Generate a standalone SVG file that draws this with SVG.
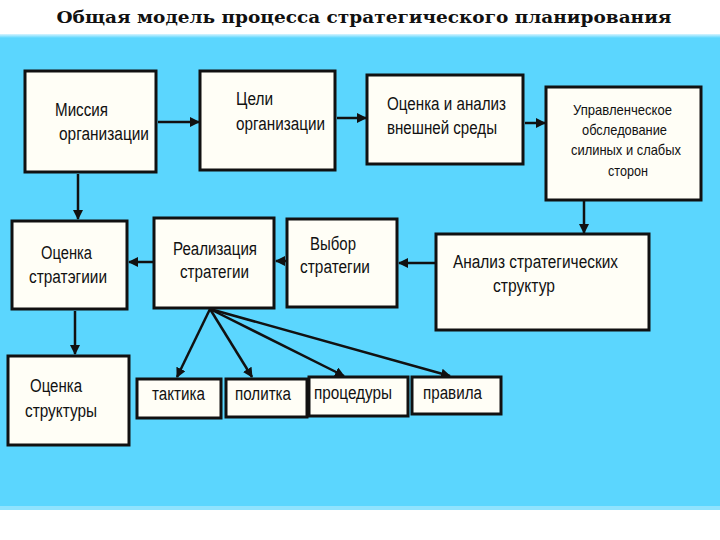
<svg xmlns="http://www.w3.org/2000/svg" width="720" height="540" viewBox="0 0 720 540">
<defs>
<linearGradient id="topEdge" x1="0" y1="0" x2="0" y2="1">
<stop offset="0" stop-color="#D8F4FF"/>
<stop offset="1" stop-color="#5BD6FE"/>
</linearGradient>
<marker id="ah" viewBox="0 0 10 10" refX="9" refY="5" markerWidth="4" markerHeight="4" markerUnits="strokeWidth" orient="auto">
<path d="M0,0 L10,5 L0,10 z" fill="#111"/>
</marker>
<style>
.box{fill:#FFFEF6;stroke:#111;stroke-width:3}
.t{font-family:"Liberation Sans",Arial,sans-serif;font-size:18px;fill:#111}
.s{font-family:"Liberation Sans",Arial,sans-serif;font-size:15px;fill:#111}
.ln{stroke:#111;stroke-width:2.5;fill:none;marker-end:url(#ah)}
</style>
</defs>
<rect x="0" y="0" width="720" height="540" fill="#fff"/>
<rect x="0" y="34" width="720" height="476" fill="#5BD6FE"/>
<rect x="0" y="34" width="720" height="4" fill="url(#topEdge)"/>
<rect x="0" y="506" width="720" height="4" fill="#8FE3FE"/>
<text x="364" y="23" text-anchor="middle" textLength="615" lengthAdjust="spacingAndGlyphs" font-family="'DejaVu Serif','Liberation Serif',serif" font-weight="bold" font-size="16" fill="#111">Общая модель процесса стратегического планирования</text>

<g id="connectors">
<line class="ln" x1="158" y1="122" x2="199" y2="122"/>
<line class="ln" x1="337" y1="118" x2="366" y2="118"/>
<line class="ln" x1="525" y1="123" x2="545" y2="123"/>
<line class="ln" x1="584" y1="201" x2="584" y2="233"/>
<line class="ln" x1="435" y1="263" x2="399" y2="263"/>
<line class="ln" x1="287" y1="261" x2="276" y2="261"/>
<line class="ln" x1="154" y1="262" x2="129" y2="262"/>
<line class="ln" x1="78" y1="174" x2="78" y2="219"/>
<line class="ln" x1="75" y1="311" x2="75" y2="354"/>
<line class="ln" x1="210" y1="309" x2="177" y2="377"/>
<line class="ln" x1="210" y1="309" x2="252" y2="377"/>
<line class="ln" x1="210" y1="309" x2="344" y2="376"/>
<line class="ln" x1="210" y1="309" x2="450" y2="376"/>
</g>

<g id="missiya">
<rect class="box" x="25" y="71" width="131" height="101"/>
<text class="t" x="55" y="116" textLength="53" lengthAdjust="spacingAndGlyphs">Миссия</text>
<text class="t" x="59" y="140" textLength="90" lengthAdjust="spacingAndGlyphs">организации</text>
</g>
<g id="tseli">
<rect class="box" x="200" y="71" width="135" height="99"/>
<text class="t" x="236" y="105" textLength="37" lengthAdjust="spacingAndGlyphs">Цели</text>
<text class="t" x="236" y="130" textLength="89" lengthAdjust="spacingAndGlyphs">организации</text>
</g>
<g id="otsenka-analiz">
<rect class="box" x="367" y="75" width="156" height="89"/>
<text class="t" x="387" y="110" textLength="119" lengthAdjust="spacingAndGlyphs">Оценка и анализ</text>
<text class="t" x="387" y="134" textLength="110" lengthAdjust="spacingAndGlyphs">внешней среды</text>
</g>
<g id="upravlencheskoe">
<rect class="box" x="546" y="87" width="155" height="113"/>
<text class="s" x="573" y="115" textLength="99" lengthAdjust="spacingAndGlyphs">Управленческое</text>
<text class="s" x="582" y="135" textLength="85" lengthAdjust="spacingAndGlyphs">обследование</text>
<text class="s" x="571" y="155" textLength="110" lengthAdjust="spacingAndGlyphs">силиных и слабых</text>
<text class="s" x="608" y="176" textLength="40" lengthAdjust="spacingAndGlyphs">сторон</text>
</g>
<g id="otsenka-strategii">
<rect class="box" x="12" y="221" width="115" height="88"/>
<text class="t" x="41" y="259" textLength="51" lengthAdjust="spacingAndGlyphs">Оценка</text>
<text class="t" x="29" y="283" textLength="78" lengthAdjust="spacingAndGlyphs">стратэгиии</text>
</g>
<g id="realizatsiya">
<rect class="box" x="154" y="218" width="120" height="90"/>
<text class="t" x="173" y="255" textLength="84" lengthAdjust="spacingAndGlyphs">Реализация</text>
<text class="t" x="180" y="278" textLength="69" lengthAdjust="spacingAndGlyphs">стратегии</text>
</g>
<g id="vybor">
<rect class="box" x="287" y="219" width="110" height="88"/>
<text class="t" x="310" y="250" textLength="46" lengthAdjust="spacingAndGlyphs">Выбор</text>
<text class="t" x="300" y="273" textLength="70" lengthAdjust="spacingAndGlyphs">стратегии</text>
</g>
<g id="analiz-struktur">
<rect class="box" x="436" y="234" width="213" height="96"/>
<text class="t" x="453" y="268" textLength="165" lengthAdjust="spacingAndGlyphs">Анализ стратегических</text>
<text class="t" x="493" y="292" textLength="62" lengthAdjust="spacingAndGlyphs">структур</text>
</g>
<g id="otsenka-struktury">
<rect class="box" x="8" y="356" width="121" height="89"/>
<text class="t" x="30" y="392" textLength="52" lengthAdjust="spacingAndGlyphs">Оценка</text>
<text class="t" x="25" y="417" textLength="72" lengthAdjust="spacingAndGlyphs">структуры</text>
</g>
<g id="taktika">
<rect class="box" x="137" y="379" width="84" height="39"/>
<text class="t" x="152" y="400" textLength="53" lengthAdjust="spacingAndGlyphs">тактика</text>
</g>
<g id="politka">
<rect class="box" x="226" y="379" width="81" height="38"/>
<text class="t" x="235" y="400" textLength="56" lengthAdjust="spacingAndGlyphs">политка</text>
</g>
<g id="protsedury">
<rect class="box" x="309" y="377" width="99" height="39"/>
<text class="t" x="314" y="399" textLength="78" lengthAdjust="spacingAndGlyphs">процедуры</text>
</g>
<g id="pravila">
<rect class="box" x="412" y="377" width="89" height="37"/>
<text class="t" x="423" y="399" textLength="59" lengthAdjust="spacingAndGlyphs">правила</text>
</g>
</svg>
